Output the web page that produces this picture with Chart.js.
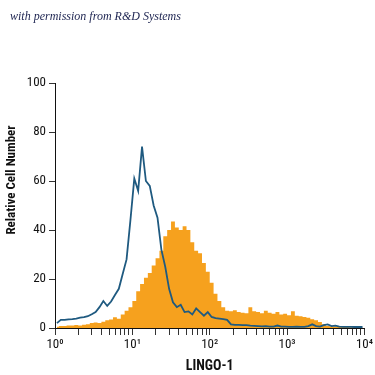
<!DOCTYPE html>
<html>
<head>
<meta charset="utf-8">
<script src="https://cdn.jsdelivr.net/npm/chart.js@4.4.1/dist/chart.umd.min.js"></script>
<style>
  html, body { margin: 0; padding: 0; background: #ffffff; }
  #wrap { position: relative; width: 375px; height: 375px; }
</style>
</head>
<body>
<div id="wrap"><canvas id="c" width="375" height="375"></canvas></div>
<script>
// ---- data ----
const headerText = "with permission from R&D Systems";
const yAxisTitle = "Relative Cell Number";
const xAxisTitle = "LINGO-1";
const yTickValues = [0, 20, 40, 60, 80, 100];
const decadeLabels = ["10\u2070", "10\u00B9", "10\u00B2", "10\u00B3", "10\u2074"];
const binsPerDecade = 20;

// isotype control (blue outline)
const isotypeCounts = [
  2.0, 3.3, 3.3, 3.5, 3.6, 3.8, 4.2, 4.4, 4.8, 5.6,
  6.5, 8.5, 11.0, 9.0, 10.8, 13.5, 16.0, 22.0, 28.0, 44.0,
  61.0, 56.0, 74.0, 60.0, 58.0, 50.0, 45.0, 32.0, 25.0, 16.0,
  10.5, 8.5, 9.5, 6.5, 6.8, 5.5, 8.0, 6.5, 5.0, 6.5,
  4.5, 4.0, 3.8, 3.6, 3.3, 1.5, 1.3, 1.3, 1.2, 1.2,
  1.0, 0.9, 0.8, 0.7, 0.8, 0.6, 0.6, 1.0, 0.6, 0.6,
  0.5, 0.5, 0.6, 0.5, 0.5, 0.8, 1.5, 0.8, 0.6, 1.2,
  1.5, 0.8, 1.0, 0.6, 0.5, 0.5, 0.5, 0.4, 0.4, 0.4
];

// LINGO-1 stained cells (orange filled)
const lingoCounts = [
  0.5, 0.8, 0.8, 1.0, 1.0, 1.2, 1.0, 1.3, 1.5, 2.0,
  2.2, 2.0, 2.6, 3.2, 3.5, 4.4, 3.8, 5.5, 7.0, 8.5,
  11.0, 15.0, 18.0, 20.5, 22.5, 25.5, 28.5, 31.5, 37.5, 40.0,
  43.5, 41.0, 40.0, 41.5, 40.0, 35.0, 31.5, 30.5, 26.5, 23.0,
  18.5, 14.0, 11.0, 8.5, 7.0, 6.8, 7.2, 6.5, 6.2, 6.0,
  8.5, 6.8, 6.5, 6.0, 7.0, 6.2, 5.8, 6.5, 5.5, 5.8,
  5.2, 6.8, 5.0, 4.8, 4.5, 4.2, 3.6, 3.2, 2.5, 1.5,
  0.8, 0.6, 0.5, 0.5, 0.4, 0.4, 0.3, 0.3, 0.3, 0.3
];

// channel centres on the log axis
const channels = lingoCounts.map((_, i) => Math.pow(10, (i + 0.5) / binsPerDecade));
const toPoints = arr => arr.map((v, i) => ({ x: channels[i], y: v }));

// minor + major tick positions on the log axis
const xTickValues = [];
for (let e = 0; e < 4; e++) for (let m = 1; m <= 9; m++) xTickValues.push(m * Math.pow(10, e));
xTickValues.push(10000);

const NARROW = '"Roboto Condensed", "DejaVu Sans Condensed", Roboto, sans-serif';

const textPlugin = {
  id: 'extraText',
  afterDraw(chart) {
    const ctx = chart.ctx;
    ctx.save();
    ctx.fillStyle = '#1c2350';
    ctx.font = 'italic 12px "Liberation Serif", serif';
    ctx.textAlign = 'left';
    ctx.textBaseline = 'alphabetic';
    ctx.fillText(headerText, 10, 20);
    ctx.restore();

    ctx.save();
    ctx.fillStyle = '#111111';
    ctx.font = 'bold 13px ' + NARROW;
    ctx.translate(12, 180);
    ctx.rotate(-Math.PI / 2);
    ctx.textAlign = 'center';
    ctx.textBaseline = 'middle';
    ctx.fillText(yAxisTitle, 0, 0);
    ctx.restore();
  }
};

new Chart(document.getElementById('c'), {
  type: 'line',
  data: {
    datasets: [
      {
        label: 'Isotype',
        data: toPoints(isotypeCounts),
        borderColor: '#1f5a80',
        borderWidth: 1.8,
        pointRadius: 0,
        fill: false,
        tension: 0,
        order: 0
      },
      {
        label: 'LINGO-1',
        data: toPoints(lingoCounts),
        borderColor: 'rgba(0,0,0,0)',
        borderWidth: 0,
        backgroundColor: '#f6a11e',
        pointRadius: 0,
        fill: 'origin',
        stepped: 'middle',
        order: 1
      }
    ]
  },
  options: {
    responsive: false,
    animation: false,
    events: [],
    layout: { padding: { top: 83, right: 8, left: 0, bottom: 0 } },
    plugins: { legend: { display: false }, tooltip: { enabled: false }, title: { display: false } },
    scales: {
      x: {
        type: 'logarithmic',
        min: 1,
        max: 10000,
        afterFit: s => { s.height = 47; },
        afterBuildTicks: s => { s.ticks = xTickValues.map(v => ({ value: v })); },
        grid: { drawOnChartArea: false, drawTicks: true, tickLength: 7, color: '#333333', lineWidth: 1 },
        border: { display: true, color: '#111111', width: 1 },
        ticks: {
          autoSkip: false,
          maxRotation: 0,
          minRotation: 0,
          padding: 2,
          color: '#111111',
          font: { family: NARROW, size: 13 },
          callback: function (value) {
            const e = Math.log10(value);
            if (Math.abs(e - Math.round(e)) < 1e-9) return decadeLabels[Math.round(e)];
            return '';
          }
        },
        title: {
          display: true,
          text: xAxisTitle,
          color: '#111111',
          font: { family: NARROW, size: 14, weight: 'bold' },
          padding: { top: 1, bottom: 0 }
        }
      },
      y: {
        type: 'linear',
        min: 0,
        max: 100,
        afterFit: s => { s.width = 55; },
        afterBuildTicks: s => { s.ticks = yTickValues.map(v => ({ value: v })); },
        grid: { drawOnChartArea: false, drawTicks: true, tickLength: 6, color: '#333333', lineWidth: 1 },
        border: { display: true, color: '#111111', width: 1 },
        ticks: {
          padding: 3,
          color: '#111111',
          font: { family: NARROW, size: 13 }
        }
      }
    }
  },
  plugins: [textPlugin]
});
</script>
</body>
</html>
